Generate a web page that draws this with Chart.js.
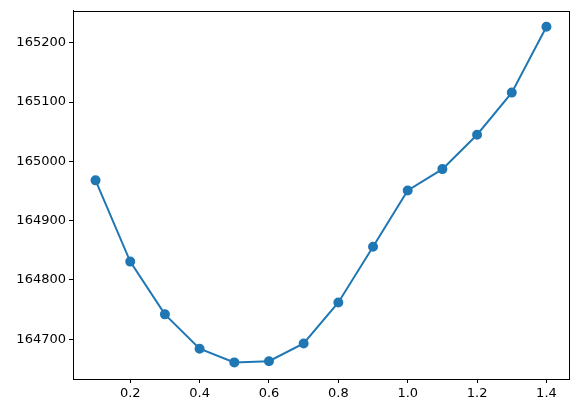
<!DOCTYPE html>
<html>
<head>
<meta charset="utf-8">
<script src="https://cdn.jsdelivr.net/npm/chart.js@4"></script>
<style>
  html, body { margin: 0; padding: 0; background: #fff; }
  #wrap { width: 578px; height: 413px; }
</style>
</head>
<body>
<div id="wrap"><canvas id="myChart" width="578" height="413"></canvas></div>
<script>
const xValues = [0.1, 0.2, 0.3, 0.4, 0.5, 0.6, 0.7, 0.8, 0.9, 1.0, 1.1, 1.2, 1.3, 1.4];
const yValues = [164968, 164831, 164742, 164684, 164661, 164663, 164693, 164762, 164856, 164951, 164987, 165045, 165116, 165227];
const xTicks = [0.2, 0.4, 0.6, 0.8, 1.0, 1.2, 1.4];
const yTicks = [164700, 164800, 164900, 165000, 165100, 165200];

const points = xValues.map((x, i) => ({ x: x, y: yValues[i] }));

// draw the top and right spines like matplotlib
const frame = {
    id: 'frame',
    afterDraw(chart) {
        const a = chart.chartArea;
        const ctx = chart.ctx;
        ctx.save();
        ctx.strokeStyle = '#000';
        ctx.lineWidth = 1;
        ctx.strokeRect(Math.round(a.left) + 0.5, Math.round(a.top) + 0.5,
            Math.round(a.right - a.left), Math.round(a.bottom - a.top));
        ctx.restore();
    }
};

const font = { family: 'DejaVu Sans', size: 13 };

const config = {
    type: 'scatter',
    data: {
        datasets: [{
            data: points,
            showLine: true,
            borderColor: '#1f77b4',
            backgroundColor: '#1f77b4',
            borderWidth: 2,
            pointRadius: 4,
            pointHoverRadius: 4
        }]
    },
    options: {
        responsive: false,
        animation: false,
        layout: { padding: { top: 10, right: 9, left: 0, bottom: 0 } },
        plugins: { legend: { display: false }, tooltip: { enabled: false } },
        scales: {
            x: {
                type: 'linear',
                min: 0.035,
                max: 1.465,
                afterBuildTicks: s => { s.ticks = xTicks.map(v => ({ value: v })); },
                afterFit: s => { s.height = 34; },
                grid: { drawOnChartArea: false, tickLength: 4, color: '#000' },
                border: { color: '#000' },
                ticks: { color: '#000', font: font, padding: 3, maxRotation: 0,
                    callback: v => v.toFixed(1) }
            },
            y: {
                type: 'linear',
                min: 164633,
                max: 165254,
                afterBuildTicks: s => { s.ticks = yTicks.map(v => ({ value: v })); },
                afterFit: s => { s.width = 73; },
                grid: { drawOnChartArea: false, tickLength: 4, color: '#000' },
                border: { color: '#000' },
                ticks: { color: '#000', font: font, padding: 3,
                    callback: v => String(v) }
            }
        }
    },
    plugins: [frame]
};

const myChart = new Chart(document.getElementById('myChart'), config);
</script>
</body>
</html>
